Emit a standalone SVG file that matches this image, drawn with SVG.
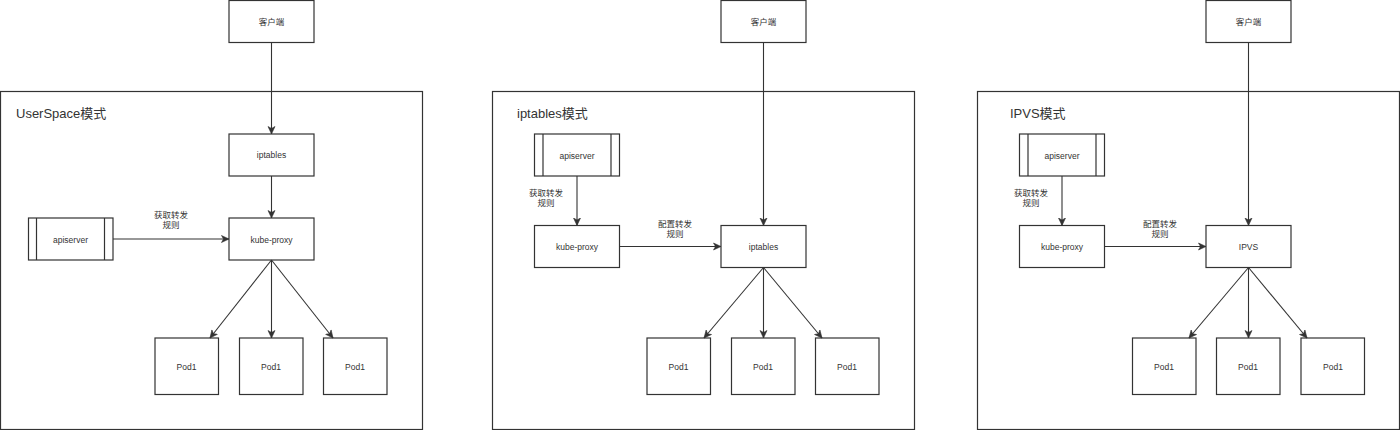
<svg xmlns="http://www.w3.org/2000/svg" width="1400" height="430" viewBox="0 0 1400 430">
<style>
  .box{fill:#ffffff;stroke:#333333;stroke-width:1.2}
  .frame{fill:#ffffff;stroke:#333333;stroke-width:1.2}
  .t{font-family:"Liberation Sans","Noto Sans CJK SC",sans-serif;font-size:8.5px;fill:#333333;text-anchor:middle;dominant-baseline:central}
  .lbl{font-family:"Liberation Sans","Noto Sans CJK SC",sans-serif;font-size:8.5px;fill:#333333;text-anchor:middle}
  .title{font-family:"Liberation Sans","Noto Sans CJK SC",sans-serif;font-size:13px;fill:#333333}
  .edge{fill:none;stroke:#333333;stroke-width:1.1;marker-end:url(#arr)}
</style>
<defs>
  <marker id="arr" markerUnits="userSpaceOnUse" markerWidth="9" markerHeight="9" refX="8" refY="4.5" orient="auto">
    <path d="M0.5,1 L8,4.5 L0.5,8 L2.5,4.5 Z" fill="#333333" stroke="#333333" stroke-width="0.6"/>
  </marker>
</defs>
<rect width="1400" height="430" fill="#ffffff"/>

<!-- Panel frames -->
<g id="frame-userspace"><rect class="frame" x="0.5" y="91.5" width="422" height="338"/><text class="title" x="16" y="118">UserSpace模式</text></g>
<g id="frame-iptables"><rect class="frame" x="492.5" y="91.5" width="422" height="338"/><text class="title" x="517" y="118">iptables模式</text></g>
<g id="frame-ipvs"><rect class="frame" x="977.5" y="91.5" width="422" height="338"/><text class="title" x="1010" y="118">IPVS模式</text></g>

<!-- Panel 1 nodes -->
<g id="p1-client"><rect class="box" x="229" y="0.5" width="85" height="42"/><text class="t" x="271.5" y="21.5">客户端</text></g>
<g id="p1-iptables"><rect class="box" x="229" y="134" width="85" height="42"/><text class="t" x="271.5" y="155">iptables</text></g>
<g id="p1-kubeproxy"><rect class="box" x="229" y="218" width="85" height="42"/><text class="t" x="271.5" y="239.5">kube-proxy</text></g>
<g id="p1-apiserver"><rect class="box" x="28.5" y="218" width="84.5" height="42"/><line x1="36.5" y1="218" x2="36.5" y2="260" stroke="#333" stroke-width="1.2"/><line x1="104.5" y1="218" x2="104.5" y2="260" stroke="#333" stroke-width="1.2"/><text class="t" x="70.5" y="239.5">apiserver</text></g>
<g id="p1-pod1"><rect class="box" x="155" y="338" width="63.5" height="56.5"/><text class="t" x="186.5" y="366.5">Pod1</text></g>
<g id="p1-pod2"><rect class="box" x="239.5" y="338" width="63.5" height="56.5"/><text class="t" x="271" y="366.5">Pod1</text></g>
<g id="p1-pod3"><rect class="box" x="323.5" y="338" width="63.5" height="56.5"/><text class="t" x="355" y="366.5">Pod1</text></g>

<!-- Panel 2 nodes -->
<g id="p2-client"><rect class="box" x="721" y="0.5" width="85" height="42"/><text class="t" x="763.5" y="21.5">客户端</text></g>
<g id="p2-apiserver"><rect class="box" x="534.5" y="134" width="85" height="42"/><line x1="543" y1="134" x2="543" y2="176" stroke="#333" stroke-width="1.2"/><line x1="611" y1="134" x2="611" y2="176" stroke="#333" stroke-width="1.2"/><text class="t" x="577" y="155.5">apiserver</text></g>
<g id="p2-kubeproxy"><rect class="box" x="534.5" y="225.5" width="85" height="42"/><text class="t" x="577" y="247">kube-proxy</text></g>
<g id="p2-iptables"><rect class="box" x="721" y="225.5" width="85" height="42"/><text class="t" x="763.5" y="247">iptables</text></g>
<g id="p2-pod1"><rect class="box" x="647" y="338" width="63.5" height="56.5"/><text class="t" x="678.5" y="366.5">Pod1</text></g>
<g id="p2-pod2"><rect class="box" x="731.5" y="338" width="63.5" height="56.5"/><text class="t" x="763" y="366.5">Pod1</text></g>
<g id="p2-pod3"><rect class="box" x="815.5" y="338" width="63.5" height="56.5"/><text class="t" x="847" y="366.5">Pod1</text></g>

<!-- Panel 3 nodes -->
<g id="p3-client"><rect class="box" x="1206" y="0.5" width="85" height="42"/><text class="t" x="1248.5" y="21.5">客户端</text></g>
<g id="p3-apiserver"><rect class="box" x="1019.5" y="134" width="85" height="42"/><line x1="1028" y1="134" x2="1028" y2="176" stroke="#333" stroke-width="1.2"/><line x1="1096" y1="134" x2="1096" y2="176" stroke="#333" stroke-width="1.2"/><text class="t" x="1062" y="155.5">apiserver</text></g>
<g id="p3-kubeproxy"><rect class="box" x="1019.5" y="225.5" width="85" height="42"/><text class="t" x="1062" y="247">kube-proxy</text></g>
<g id="p3-ipvs"><rect class="box" x="1206" y="225.5" width="85" height="42"/><text class="t" x="1248.5" y="247">IPVS</text></g>
<g id="p3-pod1"><rect class="box" x="1132.5" y="338" width="63.5" height="56.5"/><text class="t" x="1164" y="366.5">Pod1</text></g>
<g id="p3-pod2"><rect class="box" x="1216.5" y="338" width="63.5" height="56.5"/><text class="t" x="1248" y="366.5">Pod1</text></g>
<g id="p3-pod3"><rect class="box" x="1301" y="338" width="63.5" height="56.5"/><text class="t" x="1333" y="366.5">Pod1</text></g>

<!-- Connectors -->
<g id="connectors">
  <!-- Panel 1 -->
  <line class="edge" x1="271.5" y1="42.5" x2="271.5" y2="134"/>
  <line class="edge" x1="271.5" y1="176" x2="271.5" y2="218"/>
  <line class="edge" x1="113" y1="239" x2="229" y2="239"/>
  <line class="edge" x1="271.5" y1="260" x2="210" y2="338"/>
  <line class="edge" x1="271.5" y1="260" x2="271.5" y2="338"/>
  <line class="edge" x1="271.5" y1="260" x2="333" y2="338"/>
  <text class="lbl" x="171" y="218">获取转发</text>
  <text class="lbl" x="171" y="227.5">规则</text>

  <!-- Panel 2 -->
  <line class="edge" x1="763.5" y1="42.5" x2="763.5" y2="225.5"/>
  <line class="edge" x1="577" y1="176" x2="577" y2="225.5"/>
  <line class="edge" x1="619.5" y1="246.5" x2="721" y2="246.5"/>
  <line class="edge" x1="763.5" y1="267.5" x2="704" y2="338"/>
  <line class="edge" x1="763.5" y1="267.5" x2="763.5" y2="338"/>
  <line class="edge" x1="763.5" y1="267.5" x2="822" y2="338"/>
  <text class="lbl" x="546" y="196">获取转发</text>
  <text class="lbl" x="546" y="205.5">规则</text>
  <text class="lbl" x="675" y="227">配置转发</text>
  <text class="lbl" x="675" y="236.5">规则</text>

  <!-- Panel 3 -->
  <line class="edge" x1="1248.5" y1="42.5" x2="1248.5" y2="225.5"/>
  <line class="edge" x1="1062" y1="176" x2="1062" y2="225.5"/>
  <line class="edge" x1="1104.5" y1="246.5" x2="1206" y2="246.5"/>
  <line class="edge" x1="1248.5" y1="267.5" x2="1189" y2="338"/>
  <line class="edge" x1="1248.5" y1="267.5" x2="1248.5" y2="338"/>
  <line class="edge" x1="1248.5" y1="267.5" x2="1307" y2="338"/>
  <text class="lbl" x="1031" y="196">获取转发</text>
  <text class="lbl" x="1031" y="205.5">规则</text>
  <text class="lbl" x="1160" y="227">配置转发</text>
  <text class="lbl" x="1160" y="236.5">规则</text>
</g>
</svg>
